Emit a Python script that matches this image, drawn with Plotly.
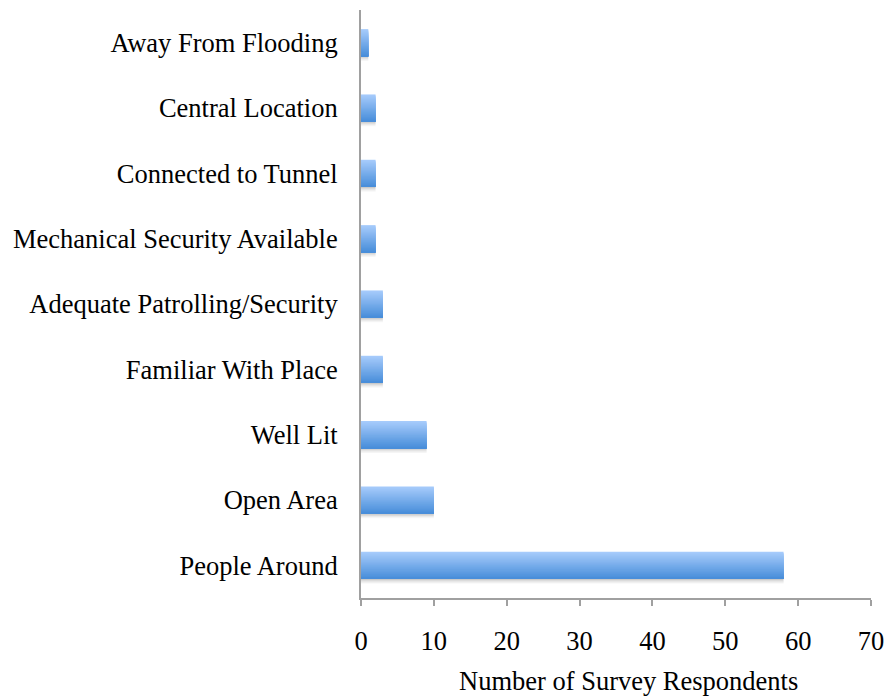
import plotly.graph_objects as go

# Reasons given for feeling safe at a location, top to bottom
categories = [
    "Away From Flooding",
    "Central Location",
    "Connected to Tunnel",
    "Mechanical Security Available",
    "Adequate Patrolling/Security",
    "Familiar With Place",
    "Well Lit",
    "Open Area",
    "People Around",
]
respondents = [1, 2, 2, 2, 3, 3, 9, 10, 58]
x_ticks = [0, 10, 20, 30, 40, 50, 60, 70]
x_title = "Number of Survey Respondents"

FONT = "Liberation Serif"
FS = 26.5
BAR_W = 0.415          # bar thickness in category units
N_STRIPS = 24          # layers used to build the vertical gradient
TOP_RGB = (166, 203, 251)
BOT_RGB = (73, 142, 218)

fig = go.Figure()

# soft drop shadow under each bar
shadow_steps = [0.32, 0.22, 0.13, 0.06]
sh_w = 0.018
for j, a in enumerate(shadow_steps):
    fig.add_trace(go.Bar(
        x=respondents, y=categories, orientation="h",
        width=sh_w, offset=BAR_W / 2 + j * sh_w,
        marker=dict(color=f"rgba(90,90,90,{a})", line=dict(width=0)),
        hoverinfo="skip", showlegend=False,
    ))

# gradient bars: each layer runs from its start down to the bar bottom,
# later (darker) layers cover the lower part, so no seams show
step = BAR_W / N_STRIPS
for i in range(N_STRIPS):
    t = i / (N_STRIPS - 1)
    r, g, b = (round(TOP_RGB[k] + (BOT_RGB[k] - TOP_RGB[k]) * t) for k in range(3))
    fig.add_trace(go.Bar(
        x=respondents, y=categories, orientation="h",
        width=BAR_W - i * step, offset=-BAR_W / 2 + i * step,
        marker=dict(color=f"rgb({r},{g},{b})", line=dict(width=0)),
        hoverinfo="skip", showlegend=False,
    ))

fig.update_layout(
    width=887, height=696,
    margin=dict(l=361, r=16, t=10, b=98),
    paper_bgcolor="white", plot_bgcolor="white",
    barmode="overlay",
    font=dict(family=FONT, size=FS, color="black"),
    showlegend=False,
    annotations=[dict(
        text=x_title, xref="paper", yref="paper", x=0.5, y=0,
        xanchor="center", yanchor="middle", xshift=12, yshift=-83,
        showarrow=False, font=dict(family=FONT, size=FS, color="black"),
    )],
)

fig.update_xaxes(
    range=[0, 70], tickvals=x_ticks, ticktext=[str(v) for v in x_ticks],
    showgrid=False, zeroline=False, automargin=False,
    showline=True, linecolor="#a0a0a0", linewidth=2,
    ticks="outside", ticklen=6, tickwidth=2, tickcolor="#a0a0a0",
    ticklabelstandoff=12,
    tickfont=dict(family=FONT, size=FS, color="black"),
)

fig.update_yaxes(
    categoryorder="array", categoryarray=categories, autorange="reversed",
    showgrid=False, zeroline=False, automargin=False,
    showline=True, linecolor="#a0a0a0", linewidth=2,
    ticks="", ticklabelstandoff=16,
    tickfont=dict(family=FONT, size=FS, color="black"),
)

fig.write_html("out.html")
